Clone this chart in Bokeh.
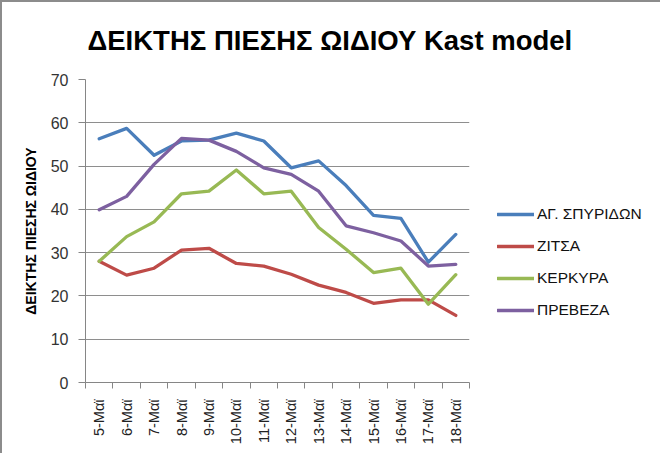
from bokeh.plotting import figure
from bokeh.models import Range1d, FixedTicker, Legend, LegendItem, ColumnDataSource
from bokeh.embed import file_html
from bokeh.resources import INLINE

dates = ["5-Μαϊ", "6-Μαϊ", "7-Μαϊ", "8-Μαϊ", "9-Μαϊ", "10-Μαϊ", "11-Μαϊ",
         "12-Μαϊ", "13-Μαϊ", "14-Μαϊ", "15-Μαϊ", "16-Μαϊ", "17-Μαϊ", "18-Μαϊ"]

ag_spyridon = [56.3, 58.7, 52.5, 55.8, 56.0, 57.6, 55.8, 49.6, 51.2, 45.5, 38.6, 37.9, 27.8, 34.2]
zitsa = [28.0, 24.8, 26.4, 30.6, 31.0, 27.5, 26.9, 25.0, 22.5, 20.8, 18.3, 19.1, 19.1, 15.5]
kerkyra = [28.0, 33.7, 37.1, 43.6, 44.2, 49.1, 43.6, 44.2, 35.8, 30.8, 25.4, 26.4, 18.1, 24.9]
preveza = [39.9, 43.0, 50.4, 56.4, 56.0, 53.4, 49.6, 48.1, 44.2, 36.2, 34.6, 32.7, 26.9, 27.3]

series_names = ["ΑΓ. ΣΠΥΡΙΔΩΝ", "ΖΙΤΣΑ", "ΚΕΡΚΥΡΑ", "ΠΡΕΒΕΖΑ"]
series_values = [ag_spyridon, zitsa, kerkyra, preveza]
series_colors = ["#4A7EBB", "#BE4B48", "#98B954", "#7D60A0"]

title_text = "ΔΕΙΚΤΗΣ ΠΙΕΣΗΣ ΩΙΔΙΟΥ Kast model"
y_label = "ΔΕΙΚΤΗΣ ΠΙΕΣΗΣ ΩΙΔΙΟΥ"
y_ticks = [0, 10, 20, 30, 40, 50, 60, 70]

idx = list(range(len(dates)))

p = figure(frame_width=384, frame_height=303, output_backend="svg", toolbar_location=None,
           x_range=Range1d(-0.5, len(dates) - 0.5), y_range=Range1d(0, 70),
           min_border_left=83, min_border_right=181, min_border_top=77,
           min_border_bottom=71)
p.styles = {"border-top": "2px solid #8c8c8c", "border-left": "2px solid #8c8c8c"}
p.outline_line_color = None
p.background_fill_color = "white"
p.border_fill_color = "white"

# title
p.title.text = title_text
p.title.align = "left"
p.title.vertical_align = "top"
p.title.offset = 2
p.title.standoff = 43
p.title.text_font = "Liberation Sans"
p.title.text_font_style = "bold"
p.title.text_font_size = "27.5px"
p.title.text_color = "black"

renderers = []
for name, vals, col in zip(series_names, series_values, series_colors):
    src = ColumnDataSource(dict(x=idx, y=vals))
    r = p.line("x", "y", source=src, line_color=col, line_width=3.3,
               line_join="round", line_cap="round")
    renderers.append((name, r))

# axes
xa = p.xaxis[0]
xa.ticker = FixedTicker(ticks=idx, minor_ticks=[i - 0.5 for i in range(len(dates) + 1)])
xa.major_label_overrides = {i: d for i, d in enumerate(dates)}
xa.major_label_orientation = 1.5708
xa.major_tick_out = 0
xa.major_tick_in = 0
xa.minor_tick_out = 6
xa.minor_tick_in = 0
xa.minor_tick_line_color = "#868686"
xa.axis_line_color = "#868686"
xa.major_label_standoff = 11
xa.major_label_text_font = "Liberation Sans"
xa.major_label_text_font_size = "14.5px"
xa.major_label_text_color = "#222222"

ya = p.yaxis[0]
ya.ticker = FixedTicker(ticks=y_ticks)
ya.minor_tick_line_color = None
ya.major_tick_out = 7
ya.major_tick_in = 0
ya.major_tick_line_color = "#868686"
ya.axis_line_color = "#868686"
ya.major_label_standoff = 10
ya.major_label_text_font = "Liberation Sans"
ya.major_label_text_font_size = "16px"
ya.major_label_text_color = "#333333"
ya.axis_label = y_label
ya.axis_label_text_font = "Liberation Sans"
ya.axis_label_text_font_style = "bold"
ya.axis_label_text_font_size = "14px"
ya.axis_label_text_color = "black"
ya.axis_label_standoff = 9

p.xgrid.grid_line_color = None
p.ygrid.ticker = FixedTicker(ticks=y_ticks)
p.ygrid.grid_line_color = "#8E8E8E"
p.ygrid.grid_line_width = 1

legend = Legend(items=[LegendItem(label=n, renderers=[r]) for n, r in renderers],
                location=(28, 62), orientation="vertical",
                glyph_width=37, glyph_height=20, label_height=20,
                spacing=12, padding=0, margin=0, label_standoff=3,
                border_line_color=None, background_fill_alpha=0,
                label_text_font="Liberation Sans", label_text_font_size="15.5px",
                label_text_color="#111111")
p.add_layout(legend, "right")

open("out.html", "w").write(file_html(p, INLINE))
